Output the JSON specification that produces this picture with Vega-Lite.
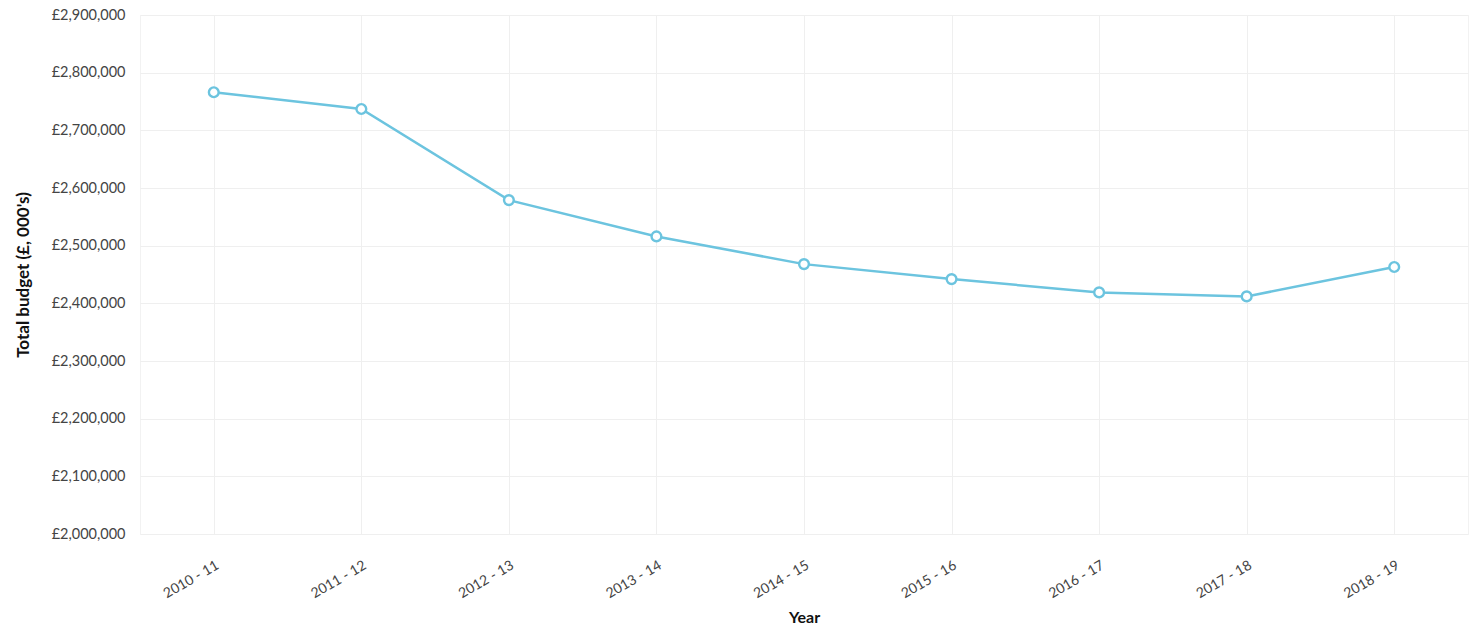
{
  "$schema": "https://vega.github.io/schema/vega-lite/v6.json",
  "autosize": {"type": "none"},
  "padding": {"left": 140, "top": 15, "right": 11, "bottom": 97},
  "width": 1328,
  "height": 519,
  "background": "white",
  "config": {
    "font": "Lato",
    "view": {"stroke": "#f2f2f2"},
    "axis": {
      "labelFont": "Lato",
      "titleFont": "Lato",
      "labelColor": "#444444",
      "titleColor": "#111111",
      "gridColor": "#efefef",
      "gridWidth": 1,
      "domain": false,
      "ticks": false
    }
  },
  "data": {
    "values": [
      {"year": "2010 - 11", "budget": 2766000},
      {"year": "2011 - 12", "budget": 2737000},
      {"year": "2012 - 13", "budget": 2579000},
      {"year": "2013 - 14", "budget": 2516000},
      {"year": "2014 - 15", "budget": 2468000},
      {"year": "2015 - 16", "budget": 2442000},
      {"year": "2016 - 17", "budget": 2419000},
      {"year": "2017 - 18", "budget": 2412000},
      {"year": "2018 - 19", "budget": 2463000}
    ]
  },
  "encoding": {
    "x": {
      "field": "year",
      "type": "ordinal",
      "sort": null,
      "scale": {"type": "point", "padding": 0.5},
      "axis": {
        "title": "Year",
        "titleFontSize": 16,
        "titleFontWeight": "bold",
        "titlePadding": 9,
        "labelAngle": -30,
        "labelFontSize": 14,
        "labelPadding": 24,
        "grid": true
      }
    },
    "y": {
      "field": "budget",
      "type": "quantitative",
      "scale": {"domain": [2000000, 2900000], "nice": false, "zero": false},
      "axis": {
        "title": "Total budget (£, 000's)",
        "titleFontSize": 17,
        "titleFontWeight": "bold",
        "titlePadding": 19,
        "values": [2000000, 2100000, 2200000, 2300000, 2400000, 2500000, 2600000, 2700000, 2800000, 2900000],
        "labelExpr": "'£' + format(datum.value, ',')",
        "labelFontSize": 14.5,
        "labelPadding": 15,
        "grid": true
      }
    }
  },
  "layer": [
    {
      "mark": {"type": "line", "color": "#6cc4df", "strokeWidth": 2.5}
    },
    {
      "mark": {"type": "point", "filled": true, "fill": "white", "stroke": "#6cc4df", "strokeWidth": 2.4, "size": 95, "opacity": 1}
    }
  ]
}
